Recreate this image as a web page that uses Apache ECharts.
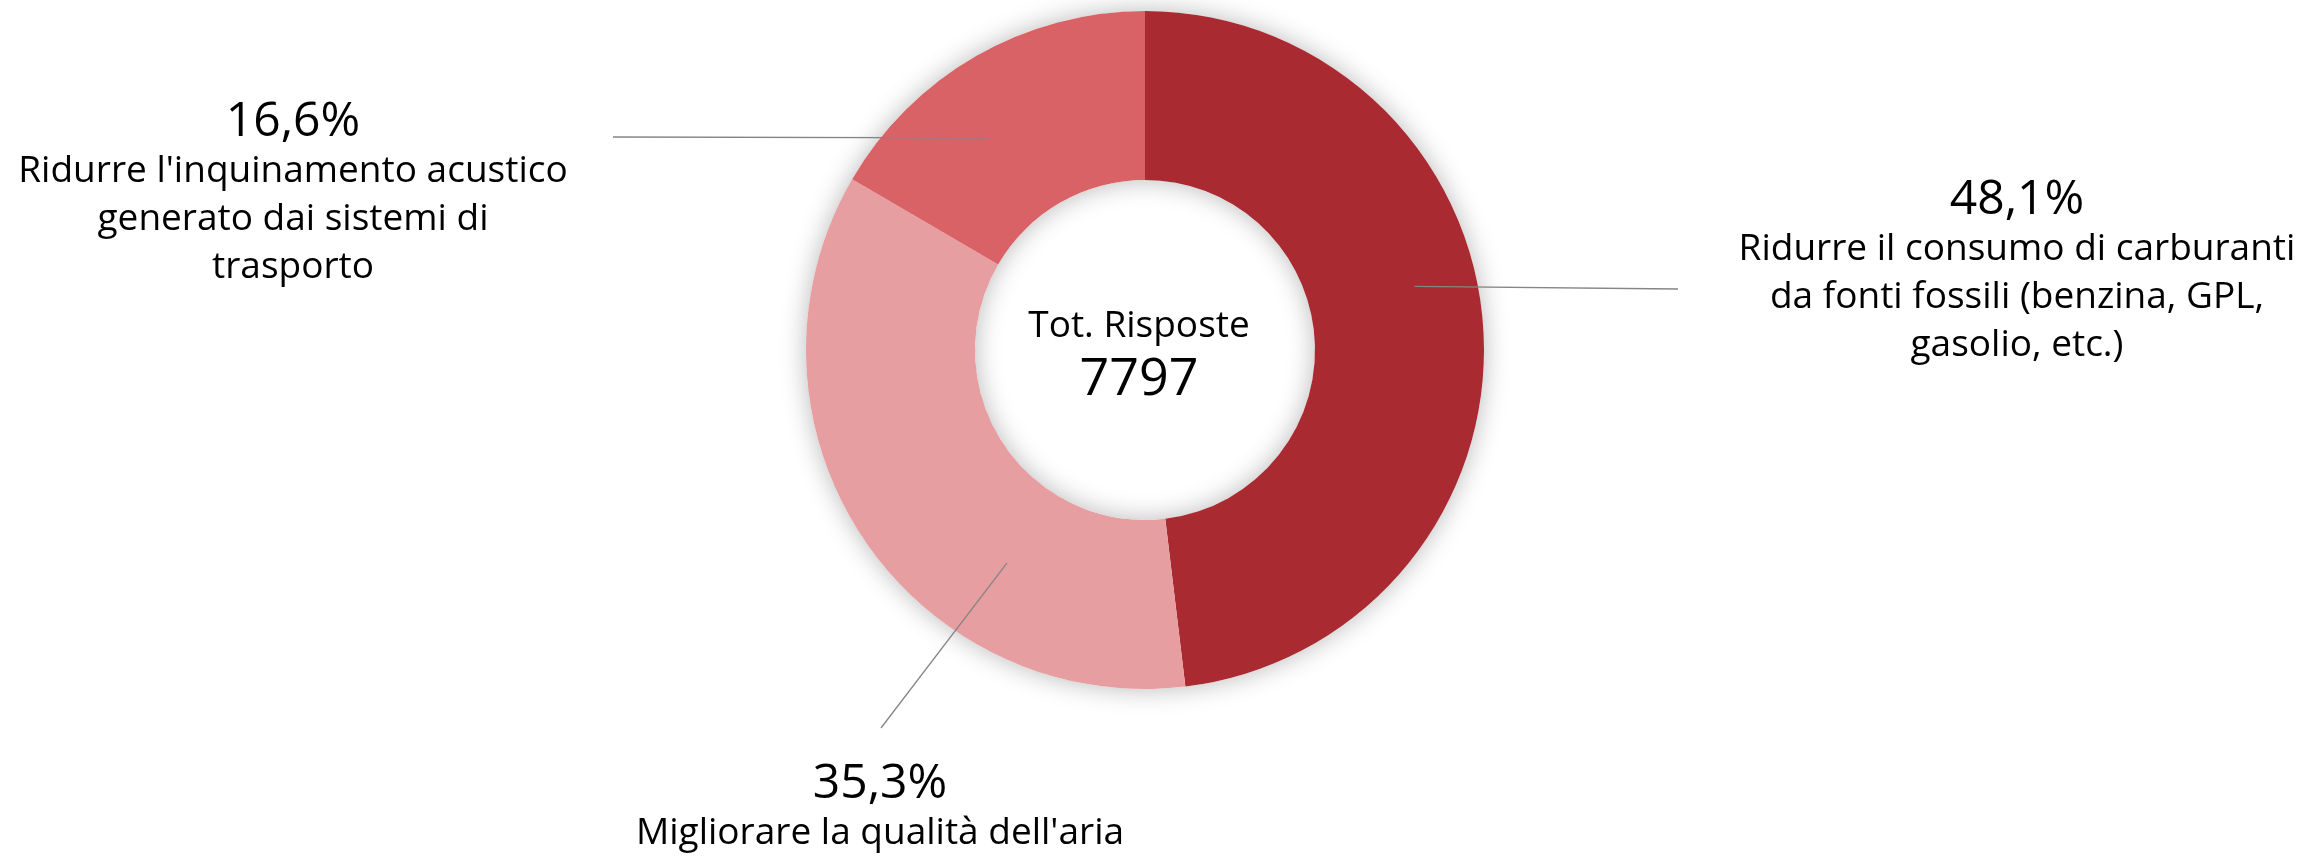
<!DOCTYPE html>
<html>
<head>
<meta charset="utf-8">
<title>Tot. Risposte</title>
<script src="https://cdn.jsdelivr.net/npm/echarts@6/dist/echarts.min.js"></script>
<style>
  html, body { margin: 0; padding: 0; background: #ffffff; }
  #chart { width: 2323px; height: 856px; }
</style>
</head>
<body>
<div id="chart"></div>
<script>
// Answer categories, each wrapped into the lines shown in its label
const categoryLines = [
  ['Ridurre il consumo di carburanti', 'da fonti fossili (benzina, GPL,', 'gasolio, etc.)'],
  ["Migliorare la qualità dell'aria"],
  ["Ridurre l'inquinamento acustico", 'generato dai sistemi di', 'trasporto']
];
// Share of answers (%)
const shares = [48.1, 35.3, 16.6];
const sliceColors = ['#A92A31', '#E69EA0', '#D96266'];
const totalResponses = 7797;
const centerTitle = 'Tot. Risposte';

// Ring geometry and label placement
const CX = 1145, CY = 350, R_IN = 170, R_OUT = 339;
const labelPlacement = [
  { x: 2017, y: 175, end: [1678, 289], at: 0.443, r: 277 },
  { x: 880,  y: 759, end: [881, 728],  at: 0.313, r: 254 },
  { x: 293,  y: 97,  end: [613, 137],  at: 0.389, r: 264 }
];

const FONT = '"Open Sans", "Noto Sans", sans-serif';

// Angular extent of each slice, clockwise from 12 o'clock, in degrees
const sumShares = shares.reduce((a, b) => a + b, 0);
const sliceStart = [];
let acc = 0;
shares.forEach(v => { sliceStart.push(acc / sumShares * 360); acc += v; });
const sliceSpan = shares.map(v => v / sumShares * 360);

function fmtPct(v) { return v.toFixed(1).replace('.', ',') + '%'; }

const chart = echarts.init(document.getElementById('chart'), null, { renderer: 'canvas' });

const ringBase = {
  type: 'pie',
  silent: true,
  center: [CX, CY],
  radius: [R_IN, R_OUT],
  startAngle: 90,
  clockwise: true,
  avoidLabelOverlap: false,
  emphasis: { disabled: true }
};

chart.setOption({
  backgroundColor: '#ffffff',
  animation: false,
  series: [
    Object.assign({}, ringBase, {
      // white ring underneath that carries the soft shadow
      z: 1,
      label: { show: false },
      labelLine: { show: false },
      itemStyle: {
        color: '#ffffff',
        shadowBlur: 26,
        shadowColor: 'rgba(0,0,0,0.28)'
      },
      data: [{ value: totalResponses, name: 'ring' }]
    }),
    Object.assign({}, ringBase, {
      // coloured slices
      z: 2,
      label: { show: false },
      labelLine: { show: false },
      itemStyle: { borderWidth: 0 },
      data: shares.map((v, i) => ({
        value: v,
        name: categoryLines[i].join(' '),
        itemStyle: { color: sliceColors[i] }
      }))
    }),
    Object.assign({}, ringBase, {
      // same slices, transparent, so labels and leader lines sit on top
      z: 3,
      itemStyle: { color: 'rgba(0,0,0,0)', borderWidth: 0 },
      label: {
        show: true,
        position: 'outside',
        color: '#000000',
        fontFamily: FONT,
        formatter: function (p) {
          const i = p.dataIndex;
          return '{p|' + fmtPct(shares[i]) + '}\n' +
            categoryLines[i].map(l => '{t|' + l + '}').join('\n');
        },
        rich: {
          p: { fontFamily: FONT, fontSize: 48, lineHeight: 50, color: '#000000', align: 'center' },
          t: { fontFamily: FONT, fontSize: 37, lineHeight: 48, color: '#000000', align: 'center' }
        }
      },
      labelLine: {
        show: true,
        lineStyle: { color: '#858585', width: 1.3 }
      },
      labelLayout: function (params) {
        const i = params.dataIndex;
        const L = labelPlacement[i];
        const ang = (sliceStart[i] + L.at * sliceSpan[i]) * Math.PI / 180;
        const sx = CX + L.r * Math.sin(ang);
        const sy = CY - L.r * Math.cos(ang);
        return {
          x: L.x,
          y: L.y,
          align: 'center',
          verticalAlign: 'top',
          labelLinePoints: [[sx, sy], [L.end[0], L.end[1]], [L.end[0], L.end[1]]]
        };
      },
      data: shares.map((v, i) => ({
        value: v,
        name: categoryLines[i].join(' ')
      }))
    })
  ],
  graphic: [
    {
      type: 'text',
      silent: true,
      z: 10,
      style: {
        x: 1139, y: 326,
        text: centerTitle,
        fill: '#000000',
        font: '37px ' + FONT,
        textAlign: 'center',
        textVerticalAlign: 'middle'
      }
    },
    {
      type: 'text',
      silent: true,
      z: 10,
      style: {
        x: 1139, y: 380,
        text: String(totalResponses),
        fill: '#000000',
        font: '52px ' + FONT,
        textAlign: 'center',
        textVerticalAlign: 'middle'
      }
    }
  ]
});
</script>
</body>
</html>
